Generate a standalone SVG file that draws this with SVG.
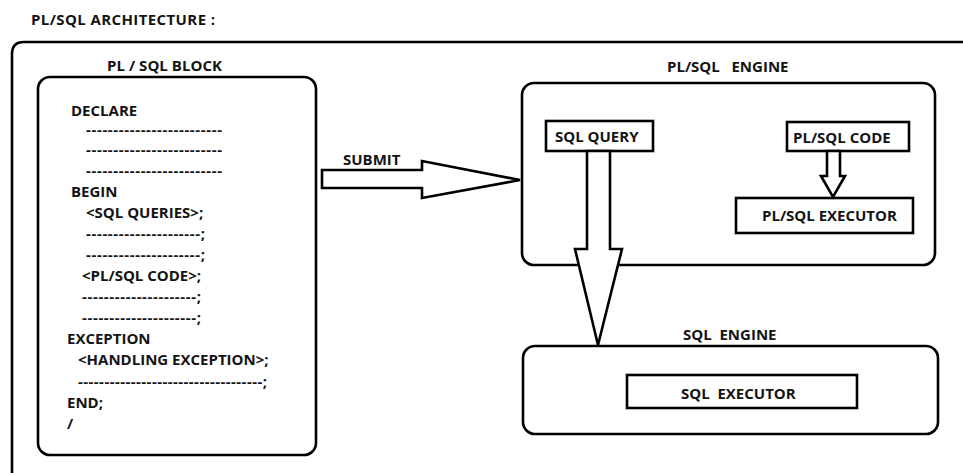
<svg xmlns="http://www.w3.org/2000/svg" width="963" height="475" viewBox="0 0 963 475">
  <style>
    .t { font-family: "Open Sans", "Liberation Sans", sans-serif; font-weight: bold; font-size: 15px; fill: #141414; }
    .box { fill: #fff; stroke: #000; stroke-width: 2.6; }
    .arrow { fill: #fff; stroke: #000; stroke-width: 2.6; stroke-linejoin: miter; }
  </style>
  <rect width="963" height="475" fill="#fff"/>

  <!-- page title and outer frame -->
  <text class="t" x="31" y="25" textLength="184">PL/SQL  ARCHITECTURE :</text>
  <path d="M12 473 V54 Q12 42 24 42 H963" fill="none" stroke="#000" stroke-width="2.6"/>

  <!-- PL/SQL block listing -->
  <g id="plsql-block">
    <text class="t" x="107" y="71" textLength="115">PL / SQL BLOCK</text>
    <rect class="box" x="38" y="77" width="278" height="378" rx="12"/>
    <text class="t" x="71" y="116">DECLARE</text>
    <text class="t" x="86" y="135" textLength="136">-------------------------</text>
    <text class="t" x="86" y="155" textLength="136">-------------------------</text>
    <text class="t" x="86" y="176" textLength="136">-------------------------</text>
    <text class="t" x="71" y="197">BEGIN</text>
    <text class="t" x="86" y="218">&lt;SQL QUERIES&gt;;</text>
    <text class="t" x="86" y="239" textLength="119">---------------------;</text>
    <text class="t" x="86" y="260" textLength="119">---------------------;</text>
    <text class="t" x="82" y="281">&lt;PL/SQL CODE&gt;;</text>
    <text class="t" x="82" y="302" textLength="119">---------------------;</text>
    <text class="t" x="82" y="323" textLength="119">---------------------;</text>
    <text class="t" x="67" y="344">EXCEPTION</text>
    <text class="t" x="78" y="365">&lt;HANDLING EXCEPTION&gt;;</text>
    <text class="t" x="78" y="387" textLength="189">-----------------------------------;</text>
    <text class="t" x="67" y="408">END;</text>
    <text class="t" x="67" y="429">/</text>
  </g>

  <!-- PL/SQL engine -->
  <g id="plsql-engine">
    <text class="t" x="667" y="72" xml:space="preserve">PL/SQL   ENGINE</text>
    <rect class="box" x="522" y="83" width="413" height="182" rx="12"/>
  </g>
  <g id="sql-query">
    <rect class="box" x="546" y="121" width="107" height="30"/>
    <text class="t" x="555" y="142">SQL QUERY</text>
  </g>
  <g id="plsql-code">
    <rect class="box" x="787" y="122" width="122" height="29"/>
    <text class="t" x="793" y="143">PL/SQL CODE</text>
  </g>
  <g id="plsql-executor">
    <rect class="box" x="736" y="198" width="177" height="35"/>
    <text class="t" x="762" y="221">PL/SQL EXECUTOR</text>
  </g>

  <!-- SQL engine -->
  <g id="sql-engine">
    <text class="t" x="683" y="340" xml:space="preserve">SQL  ENGINE</text>
    <rect class="box" x="523" y="346" width="415" height="88" rx="12"/>
  </g>
  <g id="sql-executor">
    <rect class="box" x="627" y="375" width="230" height="33"/>
    <text class="t" x="681" y="399" xml:space="preserve">SQL  EXECUTOR</text>
  </g>

  <!-- block arrows -->
  <g id="connectors">
    <text class="t" x="343" y="165">SUBMIT</text>
    <path class="arrow" d="M322 170 H422 V161 L520 180 L422 198 V188 H322 Z"/>
    <path class="arrow" d="M587 151 V249 H575 L598 345 L622 249 H610 V151 Z"/>
    <path class="arrow" d="M827 151 V176 H821 L833 197 L845 176 H840 V151 Z"/>
  </g>
</svg>
